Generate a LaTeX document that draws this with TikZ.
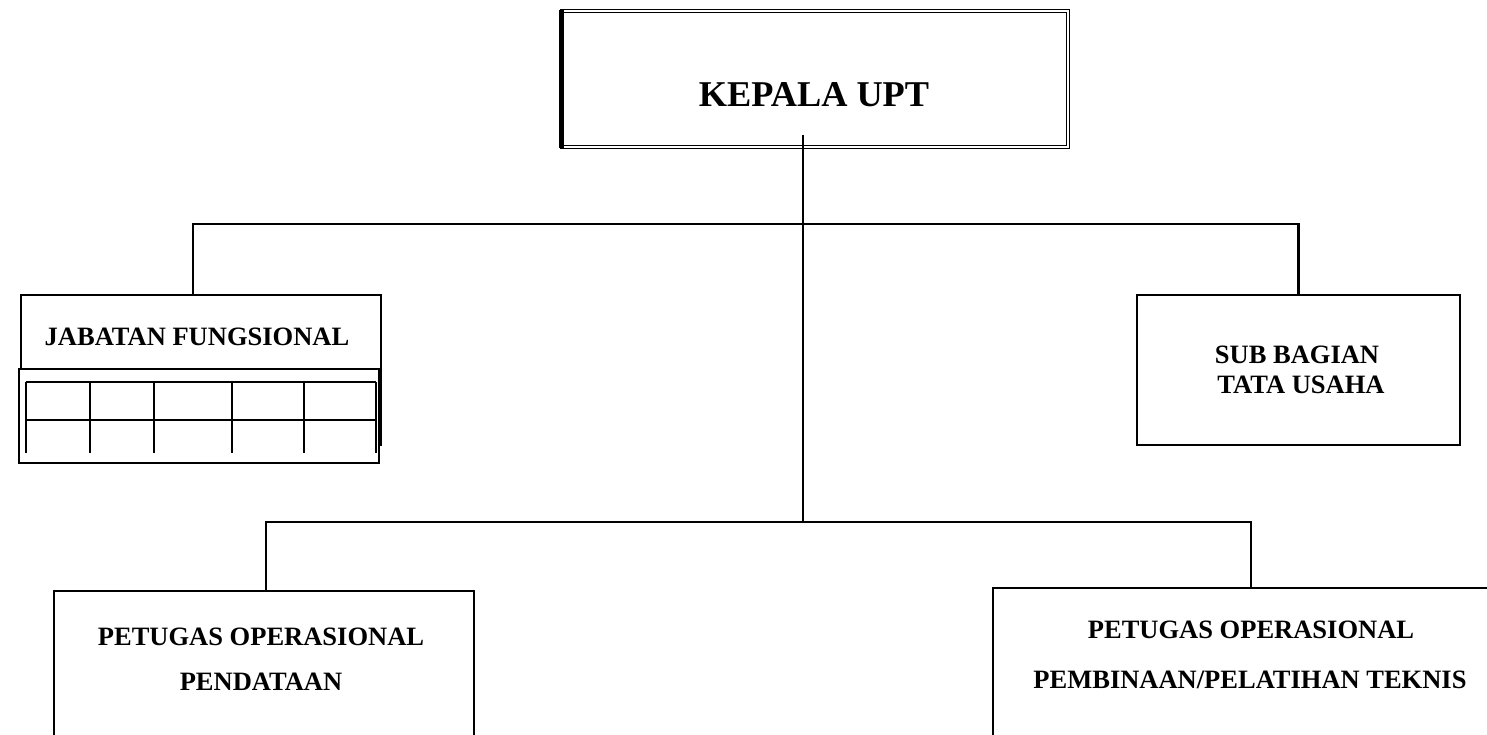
\documentclass[tikz,border=0pt]{standalone}
\usepackage{fontspec}
\setmainfont{Liberation Serif}
\begin{document}
\begin{tikzpicture}[x=1pt,y=-1pt,
  box/.style={draw, line width=1.8pt, inner sep=0pt, fill=white},
  headbox/.style={draw, double, double distance=1.4pt, line width=1.6pt, inner sep=0pt, fill=white},
  lbl/.style={font=\fontsize{26.5}{30}\bfseries\selectfont, inner sep=0pt, anchor=base},
  headlbl/.style={font=\fontsize{36.3}{40}\bfseries\selectfont, inner sep=0pt, anchor=base},
  wire/.style={line width=2.2pt},
  cell/.style={line width=2.4pt}]
\useasboundingbox (0,0) rectangle (1487,735);
\clip (0,0) rectangle (1487,735);

% head of the unit
\node[headbox, minimum width=506pt, minimum height=136pt] (kepala) at (815,79) {};
\draw[line width=4.6pt] (kepala.north west) -- (kepala.south west);
\node[headlbl] (kepalatxt) at (814,107) {KEPALA UPT};

% functional positions with its table
\node[box, line width=1.5pt, minimum width=360pt, minimum height=150pt] (jab) at (201,370) {};
\node[lbl] (jabtxt) at (197,345) {JABATAN FUNGSIONAL};
\node[box, minimum width=360pt, minimum height=94pt] (jabtab) at (199,416) {};
\draw[cell] (26,382) -- (376,382) (26,420) -- (376,420);
\foreach \cx in {26,90,154,232,304,376}
  \draw[cell] (\cx,382) -- (\cx,453);

% administration sub-section
\node[box, minimum width=323pt, minimum height=150pt] (sub) at (1298.5,370) {};
\node[lbl] (subtxt1) at (1297,363) {SUB BAGIAN};
\node[lbl] (subtxt2) at (1301,393) {TATA USAHA};

% operational staff
\node[box, minimum width=420pt, minimum height=169pt] (pend) at (264,675.5) {};
\node[lbl] (pendtxt1) at (261,645) {PETUGAS OPERASIONAL};
\node[lbl] (pendtxt2) at (261,690) {PENDATAAN};

\node[box, minimum width=516pt, minimum height=172pt] (bina) at (1251,674) {};
\node[lbl] (binatxt1) at (1251,638) {PETUGAS OPERASIONAL};
\node[lbl] (binatxt2) at (1250,688) {PEMBINAAN/PELATIHAN TEKNIS};

% connectors
\coordinate (k0) at (803,135);
\coordinate (hub1) at (803,224);
\coordinate (hub2) at (803,522);
\draw[wire] (k0) -- (hub2);
\draw[wire] ([xshift=-8]jab.north) |- (hub1) -| (sub.north);
\draw[wire] ([xshift=2]pend.north) |- (hub2) -| (bina.north);
\end{tikzpicture}
\end{document}
